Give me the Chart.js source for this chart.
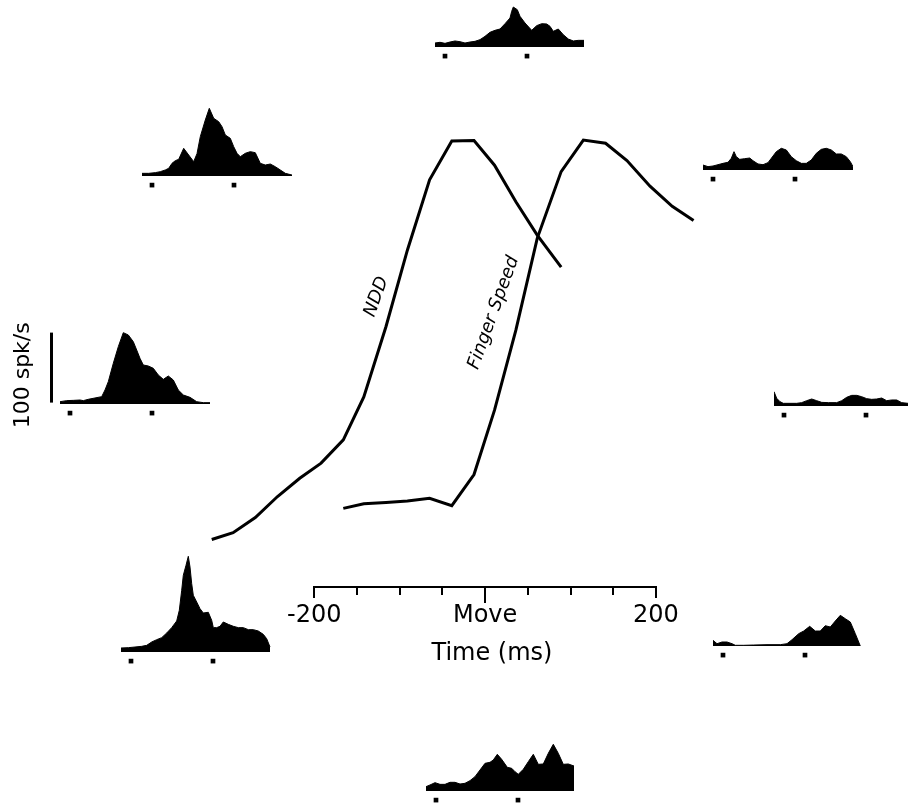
<!DOCTYPE html>
<html>
<head>
<meta charset="utf-8">
<script src="https://cdn.jsdelivr.net/npm/chart.js@4.4.0/dist/chart.umd.min.js"></script>
<style>
html,body{margin:0;padding:0;background:#fff;overflow:hidden;width:908px;height:803px;}
#wrap{position:relative;width:908px;height:803px;overflow:hidden;background:#fff;}
#wrap canvas{position:absolute;}
</style>
</head>
<body>
<div id="wrap"><canvas id="main" width="908" height="803" style="left:0;top:0;width:908px;height:803px"></canvas></div>
<script>
// ---------------- central plot data ----------------
const nddTimes    = [-320,-295,-269,-243,-217,-192,-166,-142,-116,-91,-65,-39,-13,11,36,61,89];
const nddValues   = [10.4,11.9,15.2,19.8,23.8,27.1,32.2,41.6,57.0,73.7,89.1,97.6,97.7,92.3,84.3,77.0,70.0];
const fingerTimes = [-166,-142,-116,-91,-65,-39,-13,11,36,61,89,115,141,166,193,219,244];
const fingerValues= [17.2,18.2,18.5,18.8,19.4,17.8,24.6,38.7,56.2,76.3,90.9,97.8,97.1,93.3,87.7,83.3,80.2];
const xTickValues = [-200,-150,-100,-50,0,50,100,150,200];
const xTickLabels = {'-200':'-200','0':'Move','200':'200'};
const xTitle = 'Time (ms)';

// ---------------- histogram data (bin position, spikes/s) ----------------
const histTopX     = [0,5,10,15,20,25,30,35,40,45,50,55,60,65,70,75,76.7,78.3,82.3,85,90,96.7,101.7,106.7,111.7,115,118.3,123.3,128.3,133.3,138.3,143.3,149];
const histTopRate  = [5.7,6.7,5.2,7.1,8.6,7.6,5.7,7.1,8.1,10.5,15.2,21,23.8,25.7,33.3,41.4,51,57.1,53.3,43.8,34.3,23.8,30.5,33.3,32.9,29.5,22.4,25.7,17.6,11.4,8.6,9.5,9.5];
const histUpLeftX    = [0,6.7,13.3,18.3,23.3,26.7,30,33.3,36.7,41.7,46.7,51.7,55,58.3,63.3,67.3,71.7,76.7,80,83.3,88.3,91.7,95,98.3,103.3,108.3,113.3,118.3,123.3,128.3,133.3,138.3,143.3,150];
const histUpLeftRate = [3.8,3.8,4.8,6.2,8.6,11,18.1,21.9,23.8,39.5,30,20.5,31.9,56.2,80,96.7,82.4,77.6,70.5,58.6,53.8,41.9,32.4,27.6,32.4,34.8,33.3,18.1,15.7,17.1,13.3,8.6,3.8,1.4];
const histUpRightX    = [0,5,10,15,20,25,28.3,31,33.3,36.7,41.7,46.7,50,55,60,65,68.3,73.3,78.3,83.3,88.3,93.3,98.3,103.3,108.3,113.3,118.3,123.3,128.3,133.3,138.3,143.3,147.3,150];
const histUpRightRate = [7.1,4.8,5.7,7.6,9.5,11,16.7,26.2,19,15.2,16.2,17.1,13.3,8.6,7.6,10.5,16.7,26.2,31,28.6,19,13.3,9.5,9.5,14.3,23.8,29.5,31,28.6,22.9,22.9,19,11.9,4.8];
const histLeftX    = [0,6.7,13.3,20,23.3,28.3,35,41.7,45,48.3,53.3,58.3,63.3,68.3,73.3,76.7,80,83.3,88.3,93.3,98.3,103.3,108.3,113.3,118.3,123.3,130,136.7,143.3,150];
const histLeftRate = [3.3,4.8,5.2,5.7,4.8,6.7,8.6,10.5,20,31.9,58.1,81.9,101.9,98.6,89,77.1,65.2,55.7,54.3,51,41.4,35.2,40,34.3,20,12.9,9.5,3.3,1.9,1.9];
const histRightX    = [0,2.7,6,9.3,16,22.7,27.7,32.7,37.7,42.7,47.7,54.3,62.7,67.7,72.7,77.7,82.7,87.7,92.7,97.7,102.7,107.7,112.7,117.7,122.7,127.7,134,140,150];
const histRightRate = [20.5,11,6.2,3.8,3.8,3.8,4.8,7.6,10,7.6,5.2,4.8,4.8,7.6,12.4,15.2,15.2,13.3,10.5,9.5,10,11.4,7.6,8.6,8.6,4.8,3.8,3.8,3.8];
const histLowLeftX    = [0,7.3,14,20.7,25.7,30.7,35.7,40.7,45.7,50.7,55.7,58.3,60.7,62.3,65,67.3,69,70.7,72.3,75.7,79,82.3,87.3,90.7,92.3,95.7,99,102.3,107.3,112.3,117.3,122.3,127.3,132.3,137.3,142.3,145.7,149];
const histLowLeftRate = [5.7,6.2,7.1,8.1,9.5,14.3,17.6,20.5,27.1,34.8,44.3,59.5,88.1,109.5,123.8,136.7,121.4,97.6,81,71.4,61.9,55.7,56.7,45.2,34.8,34.8,36.7,42.9,39.5,36.7,34.8,34.8,31.9,31.9,30,25.2,19,7.1];
const histLowRightX    = [0,4,9,14,19,22.3,30.7,40.7,54,67.3,74,79,85.7,90.7,96.7,102.3,107.3,112.3,117.3,122.3,127.3,132.3,137.3,142.3,147.3];
const histLowRightRate = [8.1,3.3,5.7,5.7,3.3,1,1,1.4,1.9,1.9,3.3,9,17.6,21.4,28.1,21.4,21.4,29,27.1,35.7,43.8,39,34.3,17.6,0];
const histBottomX    = [0,4,9,14,19,24,29,34,39,44,49,54,59,64,67.3,71.3,75.7,81.3,85.7,89,92.3,97.3,102.3,107.3,112.3,117.3,122.3,127.3,132.3,137.3,142.3,148];
const histBottomRate = [6.2,8.6,11.9,9.5,9.5,12.4,12.4,10,11,14.8,20.5,30,39.5,41,44.3,52.4,45.2,33.8,32.4,27.6,23.8,31,41.9,52.4,38.1,38.6,53.8,66.7,53.8,38.1,38.6,35.7];
const markerBins = [10, 92];
const scaleBarRates = [2, 102];
const scaleBarLabel = '100 spk/s';

const FONT = 'DejaVu Sans';

// ---------------- central chart ----------------
const lineLabels = [
  {text:'NDD', t:-127, v:63.5, angle:-70},
  {text:'Finger Speed', t:10, v:60, angle:-70}
];
const mainPlugin = {
  id:'mainExtras',
  afterDraw(chart){
    const {ctx, scales:{x, y}} = chart;
    ctx.save();
    ctx.fillStyle = '#000';
    ctx.font = 'italic 18px "' + FONT + '"';
    ctx.textAlign = 'center';
    ctx.textBaseline = 'middle';
    lineLabels.forEach(l => {
      ctx.save();
      ctx.translate(x.getPixelForValue(l.t), y.getPixelForValue(l.v));
      ctx.rotate(l.angle * Math.PI / 180);
      ctx.fillText(l.text, 0, 0);
      ctx.restore();
    });
    // time axis line between -200 and 200
    ctx.strokeStyle = '#000';
    ctx.lineWidth = 2;
    const yAxis = Math.round(x.top);
    const xL = Math.round(x.getPixelForValue(xTickValues[0]));
    const xR = Math.round(x.getPixelForValue(xTickValues[xTickValues.length - 1]));
    ctx.beginPath();
    ctx.moveTo(xL - 1, yAxis);
    ctx.lineTo(xR + 1, yAxis);
    ctx.stroke();
    // longer tick marks at the ends and at movement onset
    [[-200, 11], [0, 16], [200, 11]].forEach(([v, len]) => {
      const px = Math.round(x.getPixelForValue(v));
      ctx.beginPath();
      ctx.moveTo(px, yAxis);
      ctx.lineTo(px, yAxis + len);
      ctx.stroke();
    });
    ctx.restore();
  }
};

new Chart(document.getElementById('main'), {
  type: 'line',
  data: {
    datasets: [
      {label:'NDD', data: nddTimes.map((t, i) => ({x:t, y:nddValues[i]})), borderColor:'#000', borderWidth:3, pointRadius:0, pointHoverRadius:0, fill:false, clip:false, tension:0},
      {label:'Finger Speed', data: fingerTimes.map((t, i) => ({x:t, y:fingerValues[i]})), borderColor:'#000', borderWidth:3, pointRadius:0, pointHoverRadius:0, fill:false, clip:false, tension:0}
    ]
  },
  options: {
    responsive:false, animation:false, events:[],
    layout:{autoPadding:false, padding:{left:203.2, right:127.3, top:130, bottom:0}},
    plugins:{legend:{display:false}, tooltip:{enabled:false}},
    scales:{
      x:{
        type:'linear', position:'bottom', min:-330, max:346,
        afterBuildTicks: s => { s.ticks = xTickValues.map(v => ({value:v})); },
        afterFit: s => { s.height = 216; },
        ticks:{autoSkip:false, maxRotation:0, padding:6, color:'#000', font:{family:FONT, size:24}, callback: v => (xTickLabels[String(v)] ?? '')},
        grid:{drawOnChartArea:false, drawTicks:true, tickLength:8, lineWidth:2, color:'#000'},
        border:{display:false},
        title:{display:true, text:xTitle, color:'#000', font:{family:FONT, size:24}, padding:{top:0, bottom:135}}
      },
      y:{display:false, min:0, max:100}
    }
  },
  plugins:[mainPlugin]
});

// ---------------- histograms ----------------
const PX_PER_RATE = 0.7;   // 100 spk/s = 70 px
const Y_MIN = -40;
const CANVAS_H = 158;
const Y_MAX = Y_MIN + CANVAS_H / PX_PER_RATE;
const MARKER_RATE = -13;

const panels = [
  {x:histTopX,       y:histTopRate,       left:435,   base:47.3},
  {x:histUpLeftX,    y:histUpLeftRate,    left:141.7, base:176},
  {x:histUpRightX,   y:histUpRightRate,   left:703.3, base:170},
  {x:histLeftX,      y:histLeftRate,      left:60,    base:404, xmin:-60, scaleBar:true},
  {x:histRightX,     y:histRightRate,     left:774,   base:406},
  {x:histLowLeftX,   y:histLowLeftRate,   left:121,   base:651.7},
  {x:histLowRightX,  y:histLowRightRate,  left:712.7, base:645.7},
  {x:histBottomX,    y:histBottomRate,    left:426,   base:791}
];

const scaleLabelPlugin = {
  id:'scaleLabel',
  afterDraw(chart){
    if (!chart.options.plugins.scaleLabel || !chart.options.plugins.scaleLabel.show) return;
    const {ctx, scales:{x, y}} = chart;
    ctx.save();
    ctx.fillStyle = '#000';
    ctx.font = '22px "' + FONT + '"';
    ctx.textAlign = 'center';
    ctx.textBaseline = 'middle';
    ctx.translate(x.getPixelForValue(-37), y.getPixelForValue(41));
    ctx.rotate(-Math.PI / 2);
    ctx.fillText(scaleBarLabel, 0, 0);
    ctx.restore();
  }
};

const wrap = document.getElementById('wrap');
panels.forEach(p => {
  const xmin = p.xmin ?? 0, xmax = 150;
  const c = document.createElement('canvas');
  const W = xmax - xmin;
  c.width = W; c.height = CANVAS_H;
  c.style.width = W + 'px'; c.style.height = CANVAS_H + 'px';
  c.style.left = (p.left + xmin) + 'px';
  c.style.top = (p.base - Y_MAX * PX_PER_RATE) + 'px';
  wrap.appendChild(c);
  const datasets = [
    {data: p.x.map((v, i) => ({x:v, y:p.y[i]})), fill:'origin', backgroundColor:'#000', borderColor:'#000', borderWidth:1, pointRadius:0, pointHoverRadius:0, tension:0},
    {data: markerBins.map(b => ({x:b, y:MARKER_RATE})), showLine:false, pointStyle:'rect', pointRadius:3.3, pointHoverRadius:3.3, pointBackgroundColor:'#000', pointBorderWidth:0, borderWidth:0}
  ];
  if (p.scaleBar) {
    datasets.push({data: scaleBarRates.map(r => ({x:-8.5, y:r})), borderColor:'#000', borderWidth:3, pointRadius:0, pointHoverRadius:0, fill:false, borderCapStyle:'butt'});
  }
  new Chart(c, {
    type:'line',
    data:{datasets},
    options:{
      responsive:false, animation:false, events:[],
      layout:{autoPadding:false, padding:0},
      plugins:{legend:{display:false}, tooltip:{enabled:false}, scaleLabel:{show:!!p.scaleBar}},
      scales:{
        x:{type:'linear', min:xmin, max:xmax, display:false},
        y:{min:Y_MIN, max:Y_MAX, display:false}
      }
    },
    plugins:[scaleLabelPlugin]
  });
});
</script>
</body>
</html>
